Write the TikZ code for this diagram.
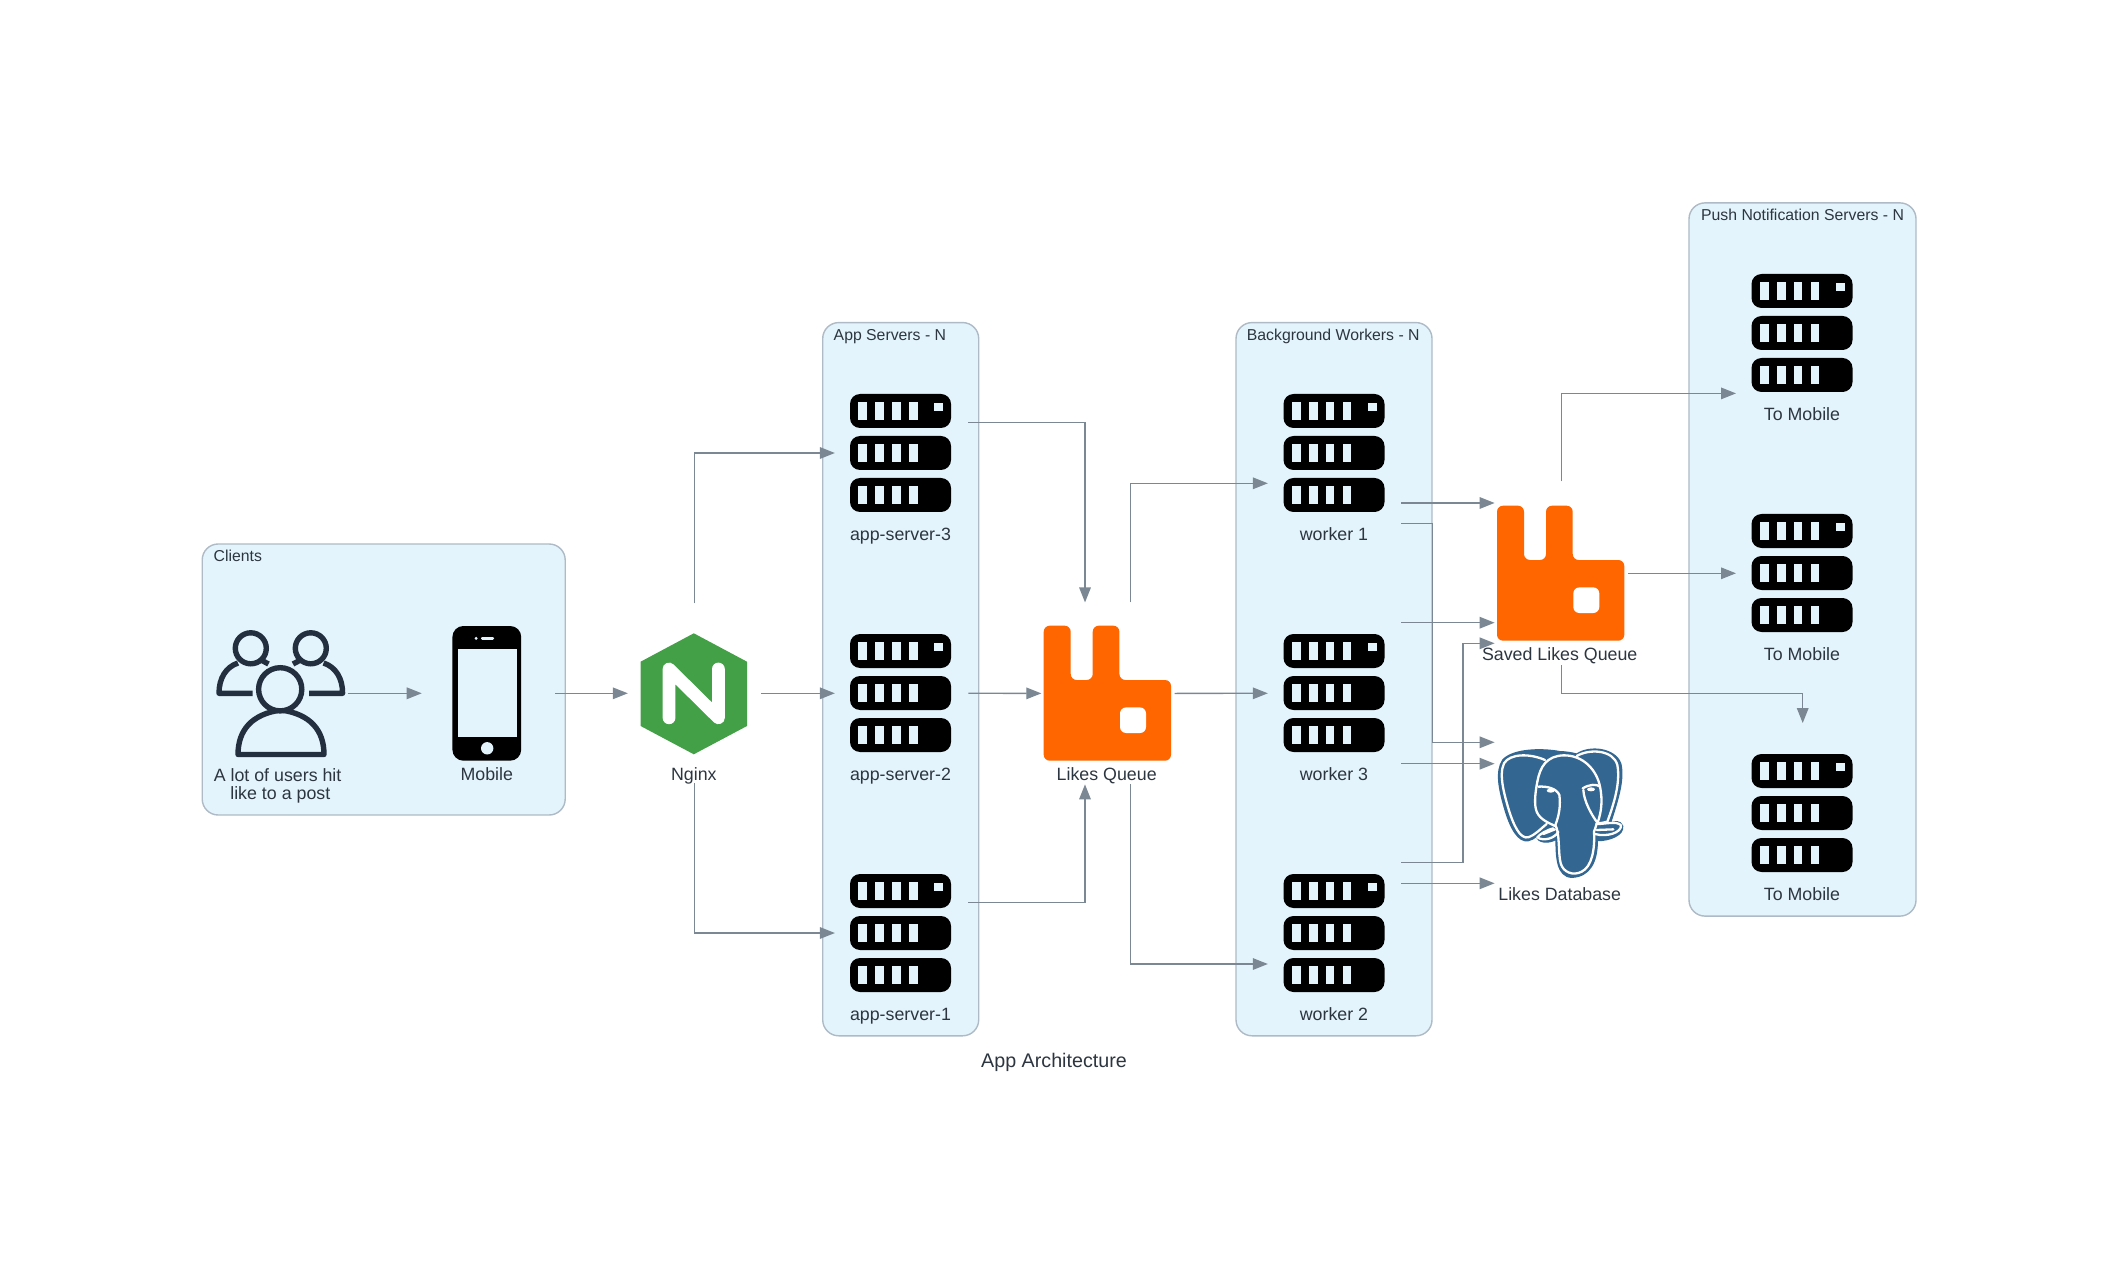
\documentclass[tikz,border=0pt]{standalone}
\usepackage{fontspec}
\setmainfont{Liberation Sans}
\usetikzlibrary{arrows.meta}
\definecolor{clfill}{HTML}{E3F4FC}
\definecolor{clline}{HTML}{AEBAC5}
\definecolor{conn}{HTML}{7B8894}
\definecolor{txt}{HTML}{2D3640}
\definecolor{awsdark}{HTML}{232F3E}
\definecolor{rabbit}{HTML}{FF6600}
\definecolor{ngx}{HTML}{43A047}
\definecolor{pg}{HTML}{336791}
\tikzset{
  cluster/.style={draw=clline,fill=clfill,line width=.7pt,rounded corners=8pt,inner sep=0pt},
  port/.style={inner sep=0pt,outer sep=0pt,minimum width=66.7pt,minimum height=90pt},
  lbl/.style={anchor=base,inner sep=0pt,text=txt,font=\fontsize{8.9}{9}\selectfont},
  cltitle/.style={anchor=base west,inner sep=0pt,text=txt,font=\fontsize{7.9}{9}\selectfont},
  link/.style={draw=conn,line width=.65pt,-{Triangle[length=7.5pt,width=5.8pt]}},
  userline/.style={draw=awsdark,line width=2.7pt}
}
% icon left, icon top
\newcommand{\srvicon}[3]{%
  \begin{scope}[shift={(#1,#2)}]
    \foreach \r in {0,42,84}{
      \fill[black,rounded corners=5pt] (0,\r) rectangle (101,\r+34);
      \foreach \b in {8.3,25.3,42,59}{
        \fill[#3] (\b,\r+8.3) rectangle (\b+8.7,\r+25.7);
      }
    }
    \fill[#3] (84.3,9) rectangle (93,17);
  \end{scope}}
\newcommand{\rabbiticon}[2]{%
  \begin{scope}[shift={(#1,#2)}]
    \fill[rabbit,rounded corners=3pt] (0,60) -- (0,0) -- (27,0) -- (27,54.3) -- (49,54.3) -- (49,0) -- (75.7,0) -- (75.7,54.3) -- (127.3,54.3) -- (127.3,135) -- (0,135) -- cycle;
    \fill[white,rounded corners=3pt] (76.3,81.7) rectangle (102.3,107.3);
  \end{scope}}
\begin{document}
\begin{tikzpicture}[x=.5pt,y=-.5pt]
\useasboundingbox (0,0) rectangle (2108,1272);
% clusters
\node[cluster,minimum width=181.5pt,minimum height=135.5pt] (clients) at (383.7,679.5) {};
\node[cluster,minimum width=78pt,minimum height=356.6pt] (apps) at (900.7,679.2) {};
\node[cluster,minimum width=98pt,minimum height=356.6pt] (workers) at (1334,679.2) {};
\node[cluster,minimum width=113.5pt,minimum height=356.6pt] (pushs) at (1802.5,559.5) {};
\node[cltitle] (clientsT) at (213.3,561.7) {Clients};
\node[cltitle] (appsT) at (833.3,341) {App Servers - N};
\node[cltitle] (workersT) at (1246.5,341) {Background Workers - N};
\node[cltitle] (pushsT) at (1700.7,221) {Push Notification Servers - N};
% connection ports
\node[port] (users) at (280.8,693.3) {};
\node[port] (mobile) at (488.4,693.3) {};
\node[port] (nginx) at (694.5,693.3) {};
\node[port] (srv3) at (901.6,453) {};
\node[port] (srv2) at (901.6,693.3) {};
\node[port] (srv1) at (901.6,933) {};
\node[port,minimum height=91pt] (likes) at (1108,693.4) {};
\node[port] (wk1) at (1334.5,453) {};
\node[port] (wk3) at (1334.5,693.3) {};
\node[port] (wk2) at (1334.5,933) {};
\node[port,minimum height=92pt] (saved) at (1561.3,573.3) {};
\node[port] (db) at (1561.3,812.8) {};
\node[port] (psh1) at (1802.7,333) {};
\node[port] (psh2) at (1802.7,573.3) {};
\node[port] (psh3) at (1802.7,813) {};
% servers
\srvicon{850}{394}{clfill}\srvicon{850}{634}{clfill}\srvicon{850}{874}{clfill}
\srvicon{1283.5}{394}{clfill}\srvicon{1283.5}{634}{clfill}\srvicon{1283.5}{874}{clfill}
\srvicon{1751.5}{274}{clfill}\srvicon{1751.5}{514}{clfill}\srvicon{1751.5}{754}{clfill}
\node[lbl] (srv3L) at (900.5,540) {app-server-3};
\node[lbl] (srv2L) at (900.5,780) {app-server-2};
\node[lbl] (srv1L) at (900.5,1020) {app-server-1};
\node[lbl] (wk1L) at (1334,540) {worker 1};
\node[lbl] (wk3L) at (1334,780) {worker 3};
\node[lbl] (wk2L) at (1334,1020) {worker 2};
\node[lbl] (psh1L) at (1802,421) {To Mobile};
\node[lbl] (psh2L) at (1802,660.5) {To Mobile};
\node[lbl] (psh3L) at (1802,900) {To Mobile};
% rabbit
\rabbiticon{1043.7}{625.7}
\rabbiticon{1497}{505.7}
\node[lbl] (likesL) at (1106.7,780) {Likes Queue};
\node[lbl] (savedL) at (1559.7,660) {Saved Likes Queue};
% nginx
\fill[ngx] (693.8,633.3) -- (747,661.7) -- (747,726) -- (693.8,754.3) -- (640.6,726) -- (640.6,661.7) -- cycle;
\draw[white,line width=6.4pt,line cap=round,line join=round] (669,717.8) -- (669,669) -- (718.4,717.8) -- (718.4,669);
\node[lbl] (nginxL) at (693.8,780) {Nginx};
% mobile
\fill[black,rounded corners=5.5pt] (452.4,626) rectangle (521.2,760.7);
\fill[clfill] (458.1,649.3) rectangle (516.6,737.3);
\fill[clfill] (476.1,638.3) circle (1.6);
\fill[clfill,rounded corners=.6pt] (481,637) rectangle (494,639.8);
\fill[clfill] (487.2,748.3) circle (6.2);
\node[lbl] (mobileL) at (486.8,780) {Mobile};
% users
\draw[userline] (250.8,648.3) circle (15.5);
\draw[userline] (310.8,648.3) circle (15.5);
\draw[userline,line join=round] (252.7,693.3) -- (219,693.3) .. controls (219,678) and (226,667) .. (238,663);
\draw[userline] (262,660.5) -- (268.5,664);
\draw[userline,line join=round] (309,693.3) -- (342.6,693.3) .. controls (342.6,678) and (335.6,667) .. (323.6,663);
\draw[userline] (299.6,660.5) -- (293,664);
\draw[userline,line join=round] (238,754.5) -- (324,754.5) .. controls (324,730) and (310,714) .. (281,710) .. controls (252,714) and (238,730) .. (238,754.5) -- cycle;
\draw[userline,fill=clfill] (280.2,689.3) circle (21.6);
\node[anchor=center,inner sep=0pt,text=txt,font=\fontsize{8.9}{9}\selectfont,align=center] (usersL) at (280.3,785.6) {A lot of users hit\rule{2.7pt}{0pt}\\like to a post};
% postgres
\begin{scope}[shift={(1400,680)},x=.16667pt,y=-.16667pt]
  \fill[pg,draw=pg,line width=.6pt,line join=round] (480,215) .. controls (430,205) and (340,205) .. (308,240)
    .. controls (285,275) and (298,330) .. (312,380) .. controls (330,445) and (355,488) .. (385,482)
    .. controls (395,480) and (402,475) .. (408,470) .. controls (415,488) and (445,492) .. (468,478)
    .. controls (468,530) and (470,590) .. (515,592) .. controls (570,590) and (592,545) .. (592,482)
    .. controls (630,482) and (672,465) .. (668,438) .. controls (660,420) and (645,425) .. (632,428)
    .. controls (650,370) and (675,300) .. (662,250) .. controls (645,205) and (570,195) .. (530,222)
    .. controls (515,218) and (495,215) .. (480,215) -- cycle;
  \begin{scope}[draw=white,line width=1.15pt,line cap=round,line join=round]
    \draw (435,240) .. controls (390,220) and (330,220) .. (312,250) .. controls (295,285) and (315,350) .. (325,385)
      .. controls (340,435) and (360,478) .. (385,472) .. controls (405,465) and (420,448) .. (440,432);
    \draw (412,305) .. controls (420,260) and (440,228) .. (490,226) .. controls (550,225) and (590,270) .. (600,320)
      .. controls (608,360) and (605,395) .. (592,430);
    \draw (530,228) .. controls (570,205) and (640,210) .. (652,255) .. controls (662,310) and (640,375) .. (622,425) .. controls (610,428) and (600,430) .. (590,430);
    \draw (412,305) .. controls (405,340) and (402,375) .. (410,395) .. controls (420,420) and (450,430) .. (465,438);
    \draw (415,320) .. controls (440,318) and (470,325) .. (478,345) .. controls (482,375) and (478,405) .. (466,435)
      .. controls (480,460) and (474,520) .. (482,550) .. controls (490,578) and (520,588) .. (545,575)
      .. controls (575,560) and (585,510) .. (582,455) .. controls (586,445) and (588,438) .. (590,430);
    \draw (548,325) .. controls (570,312) and (590,312) .. (600,320);
    \draw (550,330) .. controls (552,365) and (575,405) .. (592,428);
    \draw (590,432) .. controls (620,432) and (650,422) .. (663,436) .. controls (665,458) and (620,472) .. (585,462);
    \draw (590,450) -- (640,448);
    \draw (460,445) .. controls (440,450) and (420,462) .. (412,472) .. controls (430,485) and (465,475) .. (475,455);
    \draw (430,462) -- (465,448);
  \end{scope}
  \fill[white] (452,332) ellipse (12 and 6);
  \fill[white] (573,328) ellipse (12 and 6);
\end{scope}
\node[lbl] (dbL) at (1559.7,900) {Likes Database};
% title
\node[anchor=base,inner sep=0pt,text=txt,font=\fontsize{9.85}{12}\selectfont] (title) at (1054,1067.8) {App Architecture};
% connectors
\draw[link] (users.east) -- (mobile.west);
\draw[link] (mobile.east) -- (nginx.west);
\draw[link] (nginx.north) |- (srv3.west);
\draw[link] (nginx.east) -- (srv2.west);
\draw[link] (nginx.south) |- (srv1.west);
\draw[link] ([yshift=15.15pt]srv3.east) -| ([xshift=-11.5pt]likes.north);
\draw[link] (srv2.east) -- (likes.west);
\draw[link] ([yshift=15.35pt]srv1.east) -| ([xshift=-11.5pt]likes.south);
\draw[link] ([xshift=11.3pt]likes.north) |- ([yshift=-15.15pt]wk1.west);
\draw[link] (likes.east) -- (wk3.west);
\draw[link] ([xshift=11.3pt]likes.south) |- ([yshift=-15.5pt]wk2.west);
\draw[link] ([yshift=-25pt]wk1.east) -- ([yshift=35.15pt]saved.west);
\draw[link] ([yshift=-35.15pt]wk1.east) -- ++(31,0) |- ([yshift=35.25pt]db.west);
\draw[link] ([yshift=35.3pt]wk3.east) -- ([yshift=-24.7pt]saved.west);
\draw[link] ([yshift=-35.2pt]wk3.east) -- ([yshift=24.55pt]db.west);
\draw[link] ([yshift=35.15pt]wk2.east) -- ++(61.7,0) |- ([yshift=-35pt]saved.west);
\draw[link] ([yshift=24.85pt]wk2.east) -- ([yshift=-35.25pt]db.west);
\draw[link] (saved.north) |- ([yshift=-30.2pt]psh1.west);
\draw[link] (saved.east) -- (psh2.west);
\draw[link] (saved.south) -- ++(0,28) -| (psh3.north);
\end{tikzpicture}
\end{document}
